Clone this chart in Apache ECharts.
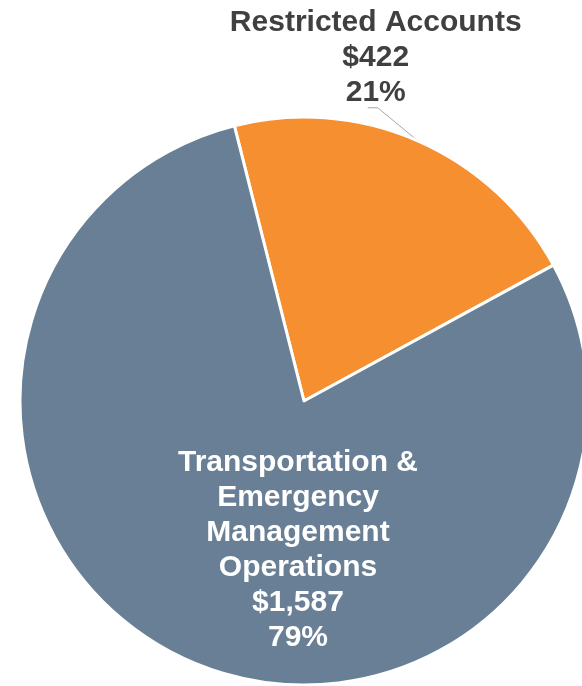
<!DOCTYPE html>
<html>
<head>
<meta charset="utf-8">
<title>Budget by Account</title>
<script src="https://cdn.jsdelivr.net/npm/echarts@6/dist/echarts.min.js"></script>
<style>
  html, body { margin: 0; padding: 0; background: #ffffff; }
  #chart { width: 582px; height: 686px; }
</style>
</head>
<body>
<div id="chart"></div>
<script>
// Account names (explicit line breaks as they are set in the labels)
const categories = [
  'Restricted Accounts',
  'Transportation &\nEmergency\nManagement\nOperations'
];
// Amounts, in millions of dollars
const amounts = [422, 1587];
const colors = ['#f68f2f', '#687f95'];

const CX = 304, CY = 401, R = 284;

const chart = echarts.init(document.getElementById('chart'), null, { renderer: 'canvas' });

function money(v) {
  return '$' + v.toLocaleString('en-US');
}

chart.setOption({
  animation: false,
  series: [{
    type: 'pie',
    center: [CX, CY],
    radius: [0, R],
    startAngle: 104.2,
    clockwise: true,
    avoidLabelOverlap: false,
    itemStyle: { borderColor: '#ffffff', borderWidth: 3 },
    label: {
      fontFamily: 'Liberation Sans, Arial, sans-serif',
      fontWeight: 'bold',
      fontSize: 30,
      lineHeight: 35,
      align: 'center',
      formatter: function (p) {
        return p.name + '\n' + money(p.value) + '\n' + Math.round(p.percent) + '%';
      }
    },
    labelLine: {
      show: true,
      length: 10,
      length2: 10,
      lineStyle: { color: '#a6a6a6', width: 1 }
    },
    labelLayout: function (p) {
      if (p.dataIndex === 0) {
        // outside label, placed above the slice with an elbow leader line
        const a = p.labelLinePoints ? p.labelLinePoints[0] : [417, 140];
        const ex = a[0] - 40, ey = a[1] - 33;
        return {
          x: ex - 2,
          y: ey - 50,
          align: 'center',
          verticalAlign: 'middle',
          labelLinePoints: [a, [ex, ey], [ex - 10, ey]]
        };
      }
      return {
        x: CX - 6,
        y: CY + 149,
        align: 'center',
        verticalAlign: 'middle'
      };
    },
    data: categories.map(function (name, i) {
      const inside = i === 1;
      return {
        name: name,
        value: amounts[i],
        itemStyle: { color: colors[i] },
        label: {
          position: inside ? 'inside' : 'outside',
          color: inside ? '#ffffff' : '#404040'
        },
        labelLine: { show: !inside }
      };
    })
  }]
});
</script>
</body>
</html>
